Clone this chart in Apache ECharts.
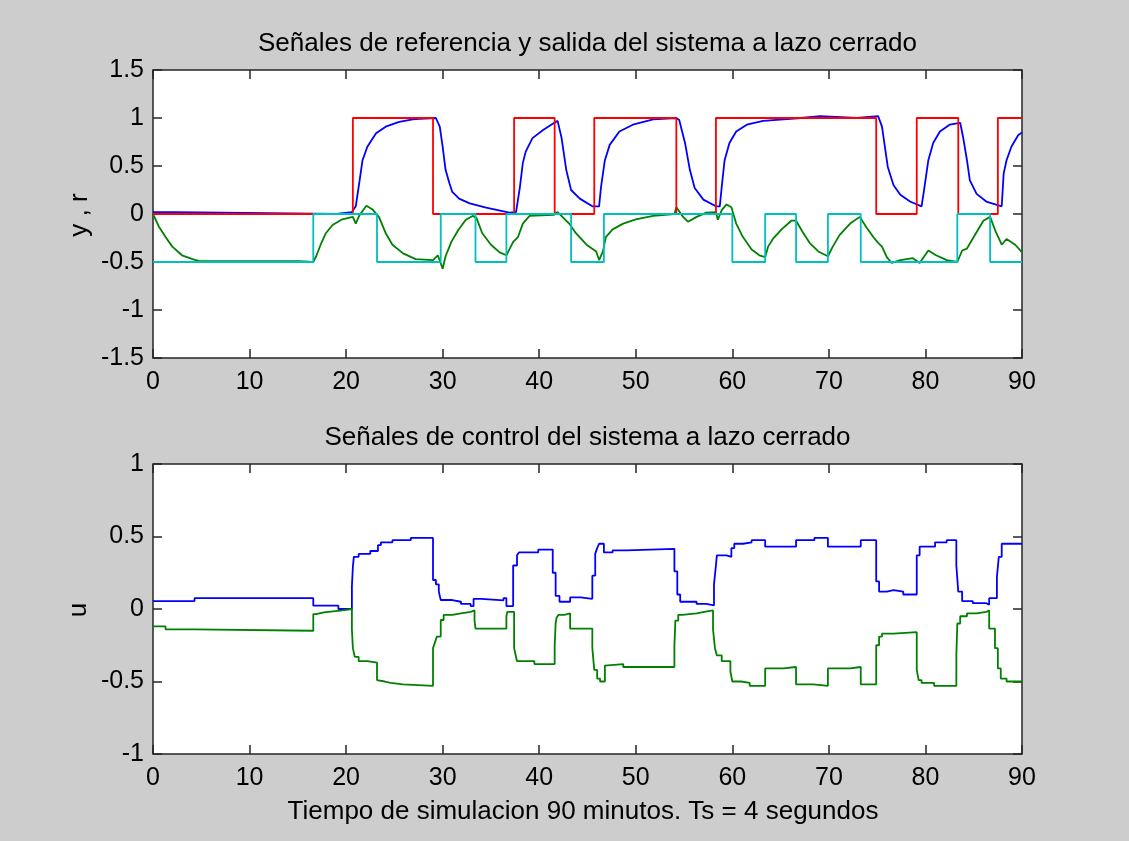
<!DOCTYPE html>
<html>
<head>
<meta charset="utf-8">
<script src="https://cdn.jsdelivr.net/npm/echarts@6/dist/echarts.min.js"></script>
<style>
html,body{margin:0;padding:0;background:#cdcdcd;}
#c{width:1129px;height:841px;}
</style>
</head>
<body>
<div id="c"></div>
<script>
// Reference signal r1 (red): switching times (min) and held values
const r1T = [0, 20.7, 29.0, 37.4, 41.6, 45.7, 54.2, 58.3, 74.9, 79.1, 83.4, 87.5, 90];
const r1V = [0, 1, 0, 1, 0, 1, 0, 1, 0, 1, 0, 1, 1];
// Reference signal r2 (cyan)
const r2T = [0, 16.6, 23.2, 29.8, 33.4, 36.6, 43.3, 46.7, 60.0, 63.4, 66.6, 69.9, 73.3, 83.3, 86.7, 90];
const r2V = [-0.5, 0, -0.5, 0, -0.5, 0, -0.5, 0, -0.5, 0, -0.5, 0, -0.5, 0, -0.5, -0.5];
// Output y1 (blue)
const y1T = [0, 2.3, 2.4, 19.0, 19.1, 20.6, 21.0, 21.4, 21.7, 22.2, 23.1, 24.1, 25.5, 26.9, 27.6, 29.3, 29.7, 30.0, 30.3, 30.7, 31.0, 31.7, 32.8, 34.5, 36.9, 37.6, 38.0, 38.3, 38.6, 39.3, 40.4, 41.4, 41.9, 42.3, 42.8, 43.3, 44.2, 45.5, 46.2, 46.4, 46.8, 47.3, 48.3, 49.7, 51.8, 54.2, 54.5, 55.1, 55.6, 56.1, 57.0, 58.3, 58.7, 58.9, 59.2, 59.7, 60.4, 61.5, 63.2, 65.3, 67.1, 67.2, 69.1, 69.2, 72.9, 73.0, 75.1, 75.3, 75.5, 75.8, 76.1, 76.7, 77.4, 78.4, 79.6, 79.9, 80.3, 80.8, 81.5, 82.5, 83.6, 83.9, 84.3, 84.6, 85.3, 86.3, 87.9, 88.1, 88.4, 88.9, 89.6, 90];
const y1V = [0.02, 0.02, 0.0, 0.0, 0.02, 0.02, 0.08, 0.35, 0.56, 0.70, 0.84, 0.91, 0.96, 0.985, 0.99, 1.0, 0.91, 0.70, 0.46, 0.32, 0.23, 0.16, 0.11, 0.066, 0.014, 0.02, 0.28, 0.53, 0.65, 0.79, 0.875, 0.94, 0.97, 0.80, 0.46, 0.25, 0.16, 0.08, 0.08, 0.28, 0.56, 0.72, 0.86, 0.93, 0.985, 1.0, 0.98, 0.74, 0.46, 0.27, 0.15, 0.08, 0.08, 0.28, 0.56, 0.74, 0.86, 0.93, 0.97, 0.985, 1.0, 1.02, 1.02, 1.0, 1.0, 1.02, 1.02, 1.0, 0.91, 0.70, 0.49, 0.30, 0.20, 0.13, 0.08, 0.28, 0.56, 0.74, 0.86, 0.93, 0.95, 0.80, 0.56, 0.35, 0.21, 0.13, 0.08, 0.42, 0.56, 0.70, 0.82, 0.85];
// Output y2 (green)
const y2T = [0, 0.6, 1.3, 2.0, 3.0, 4.1, 4.8, 15.1, 16.6, 16.9, 17.4, 17.9, 18.6, 19.6, 20.7, 21.0, 21.4, 22.1, 22.7, 23.4, 24.1, 24.8, 25.9, 27.2, 29.0, 29.5, 30.0, 30.3, 30.9, 31.6, 32.4, 33.1, 33.5, 34.1, 35.0, 35.9, 36.6, 37.3, 37.8, 38.3, 39.0, 41.5, 41.9, 42.4, 43.1, 43.8, 44.9, 45.9, 46.2, 46.6, 46.9, 47.6, 48.7, 50.0, 51.8, 54.0, 54.2, 54.9, 55.4, 56.3, 57.3, 58.3, 58.5, 58.9, 59.4, 59.9, 60.4, 61.1, 62.0, 62.8, 63.4, 63.7, 64.2, 65.1, 66.1, 66.6, 67.3, 68.0, 68.9, 69.9, 70.4, 71.1, 72.2, 73.2, 73.9, 74.6, 75.1, 75.5, 76.0, 76.5, 77.4, 78.7, 79.4, 80.3, 81.1, 82.2, 83.3, 83.8, 84.3, 85.0, 86.0, 86.7, 87.3, 87.9, 88.4, 89.3, 90];
const y2V = [0, -0.13, -0.24, -0.34, -0.43, -0.47, -0.49, -0.49, -0.5, -0.44, -0.31, -0.20, -0.115, -0.055, -0.03, -0.10, -0.01, 0.086, 0.05, -0.03, -0.20, -0.32, -0.41, -0.47, -0.48, -0.43, -0.57, -0.44, -0.29, -0.17, -0.06, -0.02, -0.04, -0.20, -0.32, -0.40, -0.43, -0.29, -0.24, -0.10, -0.02, -0.01, 0.02, -0.03, -0.10, -0.20, -0.32, -0.39, -0.48, -0.39, -0.24, -0.16, -0.10, -0.055, -0.02, 0, 0.07, -0.03, -0.08, -0.03, 0.014, 0.02, -0.06, 0.04, 0.10, 0.07, -0.10, -0.24, -0.37, -0.43, -0.45, -0.34, -0.26, -0.16, -0.07, -0.07, -0.19, -0.30, -0.39, -0.44, -0.34, -0.22, -0.10, -0.03, -0.14, -0.24, -0.30, -0.34, -0.45, -0.51, -0.48, -0.46, -0.51, -0.38, -0.43, -0.48, -0.50, -0.38, -0.36, -0.24, -0.07, -0.03, -0.19, -0.32, -0.26, -0.32, -0.40];
// Control signal u1 (blue): step start times and held values
const u1T = [0, 4.3, 16.6, 19.2, 20.6, 20.7, 20.8, 21.3, 22.5, 23.3, 23.6, 24.8, 26.7, 29.0, 29.3, 29.6, 29.8, 31.0, 31.9, 32.9, 33.2, 34.0, 36.3, 36.6, 37.3, 37.7, 37.9, 39.9, 41.4, 41.7, 42.1, 43.2, 44.3, 45.5, 45.8, 46.0, 46.2, 46.7, 47.6, 49.0, 54.0, 54.3, 54.6, 56.3, 57.3, 58.1, 58.3, 58.4, 59.4, 59.9, 60.2, 61.1, 62.0, 63.4, 66.6, 68.5, 69.9, 73.3, 74.9, 75.2, 76.0, 76.7, 77.7, 79.1, 79.4, 81.0, 82.2, 83.2, 83.4, 83.8, 84.9, 86.3, 86.6, 87.4, 87.6, 87.9, 90];
const u1V = [0.055, 0.075, 0.023, 0.0, 0.155, 0.29, 0.36, 0.38, 0.40, 0.44, 0.46, 0.475, 0.49, 0.20, 0.17, 0.12, 0.062, 0.05, 0.035, 0.02, 0.07, 0.06, 0.075, 0.02, 0.30, 0.37, 0.39, 0.41, 0.25, 0.09, 0.05, 0.08, 0.07, 0.23, 0.38, 0.42, 0.45, 0.39, 0.405, 0.415, 0.26, 0.10, 0.05, 0.035, 0.025, 0.17, 0.30, 0.37, 0.36, 0.42, 0.45, 0.46, 0.475, 0.43, 0.475, 0.49, 0.43, 0.475, 0.19, 0.12, 0.13, 0.12, 0.10, 0.37, 0.43, 0.46, 0.475, 0.30, 0.12, 0.055, 0.04, 0.03, 0.075, 0.22, 0.36, 0.45, 0.45];
// Control signal u2 (green)
const u2T = [0, 1.3, 4.3, 16.6, 16.9, 17.7, 19.6, 20.6, 20.7, 20.9, 21.3, 22.2, 23.2, 23.4, 24.0, 24.6, 25.9, 29.0, 29.2, 29.4, 29.8, 30.1, 31.0, 31.9, 32.9, 33.3, 33.4, 36.6, 36.7, 37.4, 37.5, 37.7, 39.5, 41.6, 41.7, 41.8, 42.0, 42.6, 43.2, 45.5, 45.7, 46.0, 46.3, 46.8, 46.9, 48.7, 54.0, 54.1, 54.4, 54.8, 56.3, 57.1, 58.0, 58.2, 58.4, 58.9, 59.8, 60.0, 60.9, 61.8, 63.4, 65.3, 66.6, 68.4, 69.9, 72.2, 73.3, 74.9, 75.2, 75.5, 76.7, 79.1, 79.3, 79.6, 80.9, 83.2, 83.3, 83.6, 84.3, 85.3, 86.3, 86.6, 87.2, 87.5, 87.8, 88.4, 90];
const u2V = [-0.12, -0.14, -0.15, -0.035, -0.023, -0.01, 0.0, -0.14, -0.27, -0.33, -0.36, -0.37, -0.49, -0.50, -0.51, -0.52, -0.53, -0.27, -0.23, -0.19, -0.076, -0.04, -0.03, -0.02, -0.01, -0.08, -0.135, -0.05, -0.02, -0.27, -0.30, -0.36, -0.38, -0.25, -0.10, -0.06, -0.04, -0.03, -0.135, -0.27, -0.42, -0.48, -0.50, -0.39, -0.38, -0.40, -0.25, -0.08, -0.04, -0.03, -0.02, -0.01, -0.14, -0.27, -0.32, -0.36, -0.43, -0.50, -0.51, -0.53, -0.41, -0.40, -0.52, -0.53, -0.41, -0.40, -0.52, -0.25, -0.19, -0.17, -0.16, -0.42, -0.49, -0.51, -0.53, -0.32, -0.10, -0.05, -0.03, -0.02, -0.01, -0.135, -0.27, -0.41, -0.48, -0.50, -0.50];

const title1 = 'Señales de referencia y salida del sistema a lazo cerrado';
const title2 = 'Señales de control del sistema a lazo cerrado';
const xLabel = 'Tiempo de simulacion 90 minutos. Ts = 4 segundos';
const yLabel1 = 'y , r';
const yLabel2 = 'u';

function zip(t, v) { return t.map((x, i) => [x, v[i]]); }

const FONT = 'Liberation Sans, Arial, Helvetica, sans-serif';
const AX = '#262626';

function xAx(grid, pos, labels) {
  return {
    type: 'value', gridIndex: grid, position: pos, min: 0, max: 90, interval: 10,
    axisLine: {show: false, onZero: false},
    axisTick: {show: true, inside: true, length: 9, lineStyle: {color: AX, width: 1.5}},
    axisLabel: {show: labels, margin: 12, color: '#000', fontFamily: FONT, fontSize: 25},
    splitLine: {show: false}
  };
}
function yAx(grid, pos, mn, mx, labels) {
  return {
    type: 'value', gridIndex: grid, position: pos, min: mn, max: mx, interval: 0.5,
    axisLine: {show: false, onZero: false},
    axisTick: {show: true, inside: true, length: 9, lineStyle: {color: AX, width: 1.5}},
    axisLabel: {show: labels, margin: 9, color: '#000', fontFamily: FONT, fontSize: 25,
      showMinLabel: true, showMaxLabel: true},
    splitLine: {show: false}
  };
}
function ln(name, data, color, xi, yi, step) {
  return {
    type: 'line', name: name, data: data, xAxisIndex: xi, yAxisIndex: yi,
    step: step ? 'end' : false, showSymbol: false, symbol: 'none',
    lineStyle: {color: color, width: 1.8}, itemStyle: {color: color},
    silent: true, animation: false, z: 3
  };
}

const chart = echarts.init(document.getElementById('c'), null, {renderer: 'canvas'});
chart.setOption({
  backgroundColor: '#cdcdcd',
  animation: false,
  grid: [
    {left: 153, top: 70, width: 869, height: 288, show: true, backgroundColor: '#ffffff', borderColor: AX, borderWidth: 1.5, containLabel: false},
    {left: 153, top: 464, width: 869, height: 290, show: true, backgroundColor: '#ffffff', borderColor: AX, borderWidth: 1.5, containLabel: false}
  ],
  xAxis: [xAx(0, 'bottom', true), xAx(0, 'top', false), xAx(1, 'bottom', true), xAx(1, 'top', false)],
  yAxis: [yAx(0, 'left', -1.5, 1.5, true), yAx(0, 'right', -1.5, 1.5, false), yAx(1, 'left', -1, 1, true), yAx(1, 'right', -1, 1, false)],
  series: [
    ln('y1', zip(y1T, y1V), '#0000ff', 0, 0, false),
    ln('y2', zip(y2T, y2V), '#008000', 0, 0, false),
    ln('r1', zip(r1T, r1V), '#ff0000', 0, 0, true),
    ln('r2', zip(r2T, r2V), '#00bfbf', 0, 0, true),
    ln('u1', zip(u1T, u1V), '#0000ff', 2, 2, true),
    ln('u2', zip(u2T, u2V), '#008000', 2, 2, true)
  ],
  graphic: [
    {type: 'text', x: 587.5, y: 44, silent: true, style: {text: title1, font: '26px ' + FONT, fill: '#000', align: 'center', verticalAlign: 'middle', textAlign: 'center', textVerticalAlign: 'middle'}},
    {type: 'text', x: 587.5, y: 438, silent: true, style: {text: title2, font: '26px ' + FONT, fill: '#000', align: 'center', verticalAlign: 'middle', textAlign: 'center', textVerticalAlign: 'middle'}},
    {type: 'text', x: 583, y: 812, silent: true, style: {text: xLabel, font: '26px ' + FONT, fill: '#000', align: 'center', verticalAlign: 'middle', textAlign: 'center', textVerticalAlign: 'middle'}},
    {type: 'text', x: 80, y: 215, rotation: Math.PI / 2, silent: true, style: {text: yLabel1, font: '26px ' + FONT, fill: '#000', align: 'center', verticalAlign: 'middle', textAlign: 'center', textVerticalAlign: 'middle'}},
    {type: 'text', x: 79, y: 610, rotation: Math.PI / 2, silent: true, style: {text: yLabel2, font: '26px ' + FONT, fill: '#000', align: 'center', verticalAlign: 'middle', textAlign: 'center', textVerticalAlign: 'middle'}}
  ]
});
</script>
</body>
</html>
